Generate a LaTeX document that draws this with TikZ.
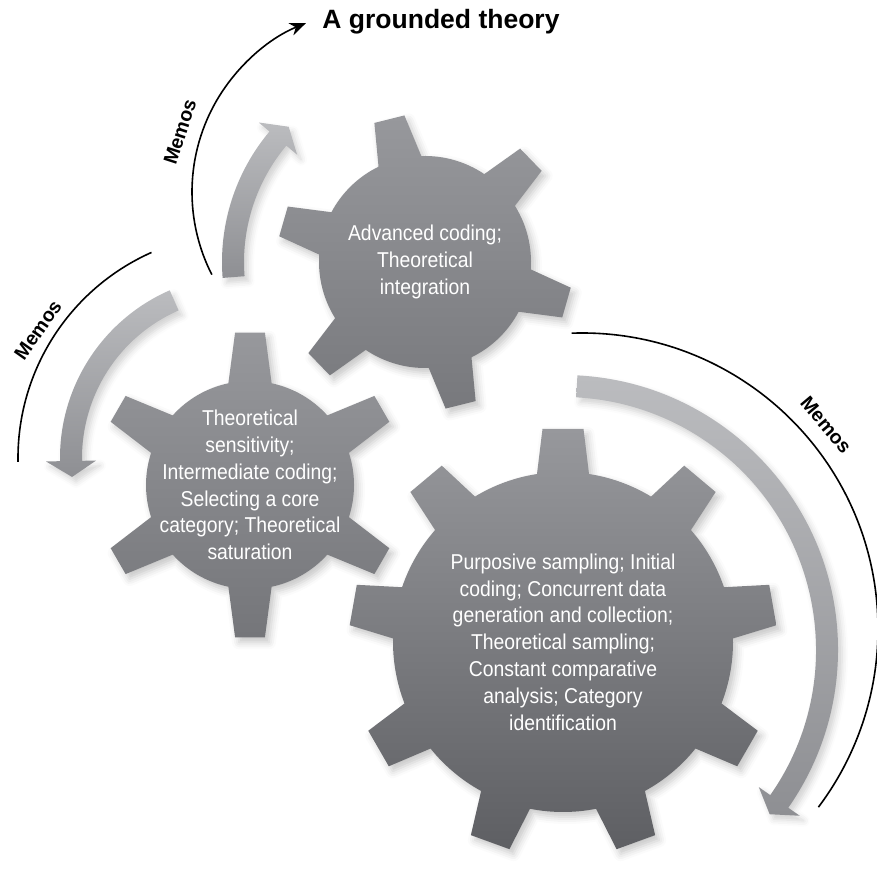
\documentclass[tikz,border=0pt]{standalone}
\usepackage{fontspec}
\setmainfont{Liberation Sans}
\newfontfamily\gearfont[FakeStretch=0.9]{Liberation Sans}
\usetikzlibrary{arrows.meta,shadows.blur}

\definecolor{gearhi}{HTML}{97989C}
\definecolor{gearlo}{HTML}{5E5F63}
\definecolor{flowhi}{HTML}{BBBCBF}
\definecolor{flowlo}{HTML}{8E8F93}

\tikzset{
  gear/.style={shade, top color=gearhi, bottom color=#1,
    blur shadow={shadow xshift=4pt, shadow yshift=-5pt, shadow blur radius=7pt, shadow opacity=22}},
  gear/.default=gearlo,
  flow/.style={shade, top color=flowhi, bottom color=flowlo,
    blur shadow={shadow xshift=4pt, shadow yshift=-5pt, shadow blur radius=6pt, shadow opacity=18}},
  memoline/.style={line width=1.6pt},
  memo/.style={font=\fontsize{19.5}{19.5}\selectfont\bfseries},
  geartext/.style={text=white, align=center, font=\gearfont\fontsize{21.5}{26.8}\selectfont},
}

% gear outline: centre, teeth, body radius, tip radius, base half-angle, tip half-angle, first tooth, style
\newcommand{\gear}[8]{%
  \begin{scope}[shift={#1}]
    \pgfmathsetmacro{\gstep}{360/#2}
    \pgfmathtruncatemacro{\glast}{#2-1}
    \path[#8] ({#7-#5}:#3)
      \foreach \k [evaluate=\k as \a using #7+\k*\gstep] in {0,...,\glast}{
        -- ({\a-#6}:#4) -- ({\a+#6}:#4) -- ({\a+#5}:#3)
        arc[start angle=\a+#5, end angle=\a+\gstep-#5, radius=#3]
      } -- cycle;
  \end{scope}}

% curved band with a flat triangle head: centre, radius, from angle, to angle
\newcommand{\flowarrow}[4]{%
  \begin{scope}[shift={#1}]
    \pgfmathsetmacro{\tipang}{#4+(#4-#3)/abs(#4-#3)*16/#2*180/pi}
    \path[flow] ({#3}:{#2+11}) arc[start angle=#3, end angle=#4, radius=#2+11]
      -- ({#4}:{#2+25}) -- (\tipang:#2) -- ({#4}:{#2-25}) -- ({#4}:{#2-11})
      arc[start angle=#4, end angle=#3, radius=#2-11] -- cycle;
  \end{scope}}

\begin{document}
\begin{tikzpicture}[x=1pt, y=1pt]
  \useasboundingbox (0,0) rectangle (877,870);

  % centres
  \coordinate (cCore) at (563,228);
  \coordinate (cMid) at (250,385);
  \coordinate (cTop) at (425,608);

  % grey arrows
  \flowarrow{(cTop)}{192}{184.5}{140}
  \flowarrow{(243,412)}{172}{113.6}{181}
  \flowarrow{(563,220)}{264}{87}{-35}

  % gears
  \gear{(cCore)}{9}{170}{214}{8.8}{5.5}{90}{gear}
  \gear{(cMid)}{6}{104}{153}{12}{5.6}{90}{gear=gearlo!60!gearhi}
  \gear{(cTop)}{6}{106}{148}{12}{6}{104}{gear=gearlo!55!gearhi}

  % text in the gears
  \node[geartext] (core) at (cCore) {Purposive sampling; Initial\\coding; Concurrent data\\generation and collection;\\Theoretical sampling;\\Constant comparative\\analysis; Category\\identification};
  \node[geartext] (mid) at (cMid) {Theoretical\\sensitivity;\\Intermediate coding;\\Selecting a core\\category; Theoretical\\saturation};
  \node[geartext] (top) at (cTop) {Advanced coding;\\Theoretical\\integration};

  \node[font=\fontsize{26.5}{26.5}\selectfont\bfseries] (theory) at (441,848) {A grounded theory};

  % memo arcs
  \draw[memoline, -{Stealth[length=16pt,width=13pt]}] ([shift={(374,678)}]207:182)
    arc[start angle=207, end angle=112, radius=182];
  \draw[memoline] ([shift={(243,412)}]114:225) arc[start angle=114, end angle=181, radius=225];
  \draw[memoline] ([shift={(582,241)}]92:296) arc[start angle=92, end angle=-37, radius=296];

  \node[memo, rotate=72] (memotop) at (180,738) {Memos};
  \node[memo, rotate=55] (memoleft) at (38,540) {Memos};
  \node[memo, rotate=-50] (memoright) at (826,445) {Memos};
\end{tikzpicture}
\end{document}
